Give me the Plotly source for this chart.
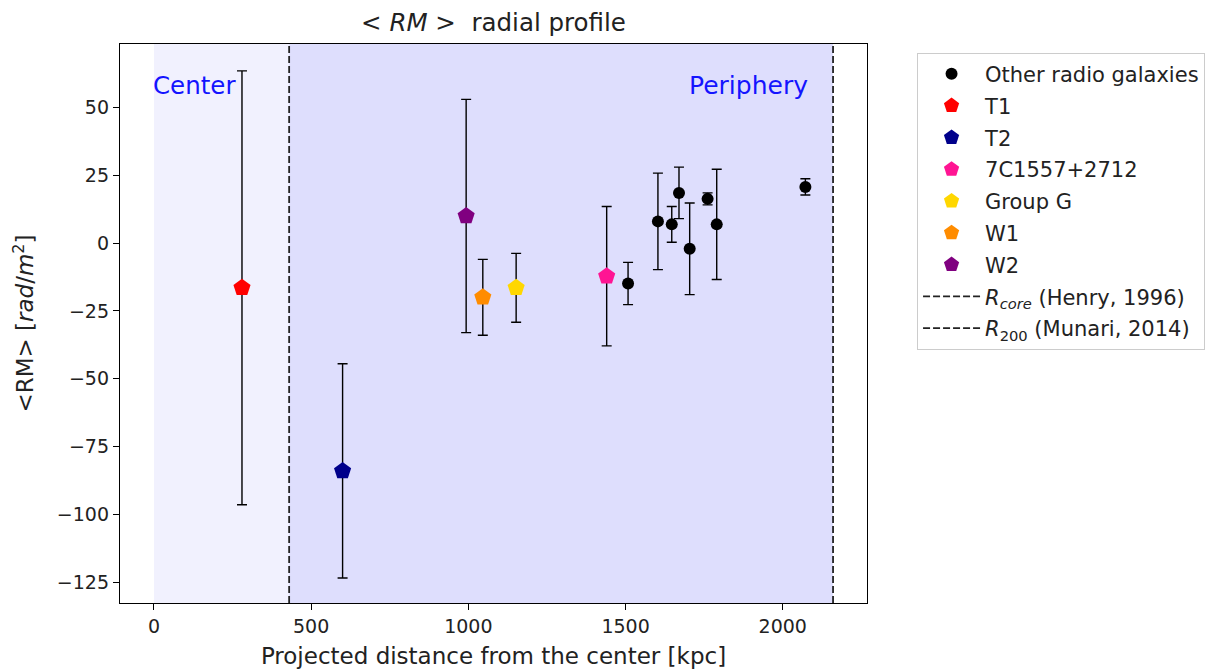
import plotly.graph_objects as go

# ---- data ----
other_x = [1508, 1603, 1647, 1670, 1704, 1761, 1790, 2072]
other_y = [-14.9, 8.0, 6.9, 18.5, -2.1, 16.3, 6.9, 20.7]
other_err = [7.8, 17.8, 6.6, 9.5, 16.9, 2.2, 20.3, 3.0]

src_names = ["T1", "T2", "7C1557+2712", "Group G", "W1", "W2"]
src_x = [280, 600, 1440, 1152, 1046, 993]
src_y = [-16.5, -84.0, -12.2, -16.5, -20.0, 10.0]
src_err = [80.0, 39.5, 25.7, 12.7, 14.0, 43.0]
src_colors = ["#ff0000", "#00008b", "#ff1493", "#ffd700", "#ff8c00", "#800080"]

r_core = 430
r_200 = 2160
line_names = ["<i>R</i><sub><i>core</i></sub> (Henry, 1996)",
              "<i>R</i><sub>200</sub> (Munari, 2014)"]

x_range = [-108, 2268]
y_range = [-132.7, 73.4]
x_ticks = [0, 500, 1000, 1500, 2000]
y_ticks = [-125, -100, -75, -50, -25, 0, 25, 50]

FONT = "DejaVu Sans"
TXT = "#222222"

fig = go.Figure()

# background regions
fig.add_vrect(x0=0, x1=r_core, fillcolor="#f1f1fe", line_width=0, layer="below")
fig.add_vrect(x0=r_core, x1=r_200, fillcolor="#dedefd", line_width=0, layer="below")

fig.add_trace(go.Scatter(
    x=other_x, y=other_y, mode="markers", name="Other radio galaxies",
    legendgroup="g0",
    marker=dict(symbol="circle", size=12, color="black", line=dict(width=0)),
    error_y=dict(type="data", array=other_err, visible=True, color="black",
                 thickness=1.4, width=5),
))

for i, (n, x, y, e, c) in enumerate(zip(src_names, src_x, src_y, src_err, src_colors)):
    fig.add_trace(go.Scatter(
        x=[x], y=[y], mode="markers", name=n, legendgroup=f"g{i+1}",
        marker=dict(symbol="pentagon", size=18, color=c, line=dict(width=0)),
        error_y=dict(type="data", array=[e], visible=True, color="black",
                     thickness=1.4, width=5),
    ))

for j, (xv, nm) in enumerate(zip([r_core, r_200], line_names)):
    fig.add_shape(type="line", x0=xv, x1=xv, y0=0, y1=1, xref="x", yref="paper",
                  line=dict(color="#222222", width=1.8, dash="7px,3px"),
                  showlegend=True, name=nm, legendgroup=f"l{j}")

fig.add_annotation(x=0, y=58, text="Center", showarrow=False, xanchor="left",
                   yanchor="middle", xshift=-3,
                   font=dict(family=FONT, size=24.5, color="#1414ff"))
fig.add_annotation(x=2077, y=58, text="Periphery", showarrow=False, xanchor="right",
                   yanchor="middle", xshift=3,
                   font=dict(family=FONT, size=25, color="#1414ff"))

axis_common = dict(showline=True, linecolor="black", linewidth=1.3, mirror=True,
                   ticks="outside", ticklen=6, tickwidth=1.3, tickcolor="black",
                   showgrid=False, zeroline=False, automargin=False,
                   tickfont=dict(family=FONT, size=19, color=TXT))

fig.update_xaxes(range=x_range, tickvals=x_ticks, **axis_common,
                 title=dict(text="Projected distance from the center [kpc]",
                            font=dict(family=FONT, size=23, color=TXT), standoff=14))
fig.update_yaxes(range=y_range, tickvals=y_ticks, **axis_common,
                 title=dict(text="&lt;RM&gt; [<i>rad</i>/<i>m</i><sup>2</sup>]",
                            font=dict(family=FONT, size=23, color=TXT), standoff=16))

fig.update_layout(
    width=1214, height=669,
    margin=dict(l=120, r=347, t=44, b=66, autoexpand=False),
    paper_bgcolor="white", plot_bgcolor="white",
    title=dict(text="&lt; <i>RM</i> &gt;  radial profile", x=(120 + 867) / 2 / 1214,
               xanchor="center", y=1 - 22 / 669, yanchor="middle",
               font=dict(family=FONT, size=24.5, color=TXT)),
    legend=dict(x=1.067, y=0.9845, xanchor="left", yanchor="top",
                bordercolor="#cccccc", borderwidth=1, bgcolor="white",
                font=dict(family=FONT, size=21, color=TXT),
                tracegroupgap=1.5, traceorder="grouped", itemwidth=57),
    showlegend=True,
)

fig.write_html("out.html")
